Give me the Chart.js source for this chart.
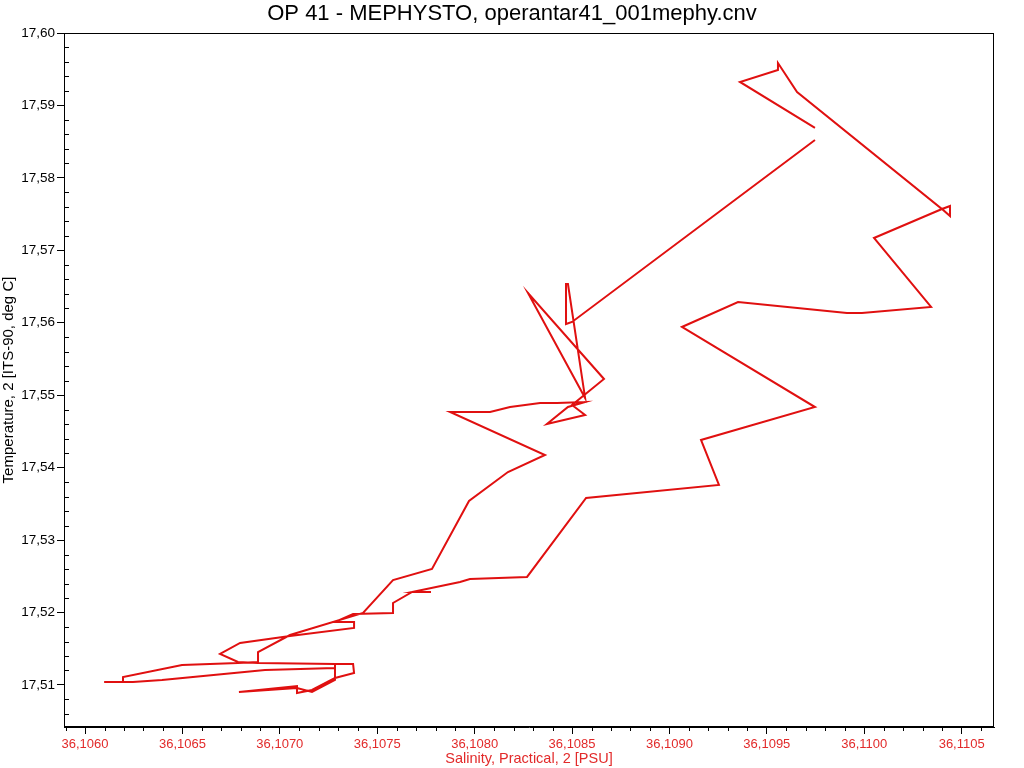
<!DOCTYPE html>
<html>
<head>
<meta charset="utf-8">
<script src="https://cdn.jsdelivr.net/npm/chart.js@4.4.0/dist/chart.umd.min.js"></script>
<style>
  html, body { margin: 0; padding: 0; background: #fff; }
</style>
</head>
<body>
<canvas id="tsChart" width="1024" height="768"></canvas>
<script>
const title = 'OP 41 - MEPHYSTO, operantar41_001mephy.cnv'

// profile, in drawing order
const salinity = [
    36.109747, 36.108500, 36.108469, 36.108469, 36.108479, 36.108567, 36.108274, 36.108664,
    36.108500, 36.108567, 36.108371, 36.108479, 36.108567, 36.108423, 36.108336, 36.108182,
    36.108079, 36.107874, 36.108361, 36.108171, 36.107971, 36.107781, 36.107581, 36.107427,
    36.107052, 36.106888, 36.106888, 36.106785, 36.106498, 36.106195, 36.106195, 36.106098,
    36.106246, 36.106395, 36.106924, 36.107283, 36.107283, 36.107376, 36.107381, 36.107283,
    36.107165, 36.107088, 36.107088, 36.106790, 36.107088, 36.107165, 36.107283, 36.107283,
    36.106888, 36.106785, 36.106693, 36.106796, 36.107052, 36.107381, 36.107381, 36.107283,
    36.107376, 36.107581, 36.107581, 36.107679, 36.107776, 36.107679, 36.107925, 36.107976,
    36.108269, 36.108572, 36.109254, 36.109162, 36.109747, 36.109064, 36.109352, 36.109911,
    36.109988, 36.110343, 36.110050, 36.110399, 36.110440, 36.110440, 36.110399, 36.109655,
    36.109557, 36.109557, 36.109362, 36.109747
]
const temperature = [
    17.58523, 17.56011, 17.55983, 17.56535, 17.56535, 17.54962, 17.56411, 17.55224,
    17.54865, 17.54727, 17.54603, 17.54837, 17.54906, 17.54893, 17.54893, 17.54837,
    17.54768, 17.54768, 17.54175, 17.53940, 17.53540, 17.52601, 17.52449, 17.51994,
    17.51690, 17.51455, 17.51317, 17.51303, 17.51276, 17.51110, 17.51041, 17.51041,
    17.51041, 17.51069, 17.51207, 17.51234, 17.51290, 17.51290, 17.51165, 17.51096,
    17.50931, 17.50889, 17.50986, 17.50903, 17.50958, 17.50903, 17.51069, 17.51290,
    17.51303, 17.51317, 17.51428, 17.51580, 17.51676, 17.51787, 17.51870, 17.51870,
    17.51980, 17.51994, 17.52132, 17.52284, 17.52284, 17.52284, 17.52422, 17.52463,
    17.52491, 17.53581, 17.53761, 17.54382, 17.54837, 17.55942, 17.56287, 17.56135,
    17.56135, 17.56218, 17.57170, 17.57570, 17.57474, 17.57612, 17.57570, 17.59186,
    17.59586, 17.59489, 17.59324, 17.58689
]

const salTicks = [36.1060, 36.1065, 36.1070, 36.1075, 36.1080, 36.1085, 36.1090, 36.1095, 36.1100, 36.1105]
const tempTicks = [17.51, 17.52, 17.53, 17.54, 17.55, 17.56, 17.57, 17.58, 17.59, 17.60]

const SAL_MIN = 36.105892
const SAL_MAX = 36.110666
const TEMP_MIN = 17.50420
const TEMP_MAX = 17.60

const red = 'rgb(224,16,16)'
const labelRed = '#e22a2a'
const fontFamily = '"Liberation Sans", Arial, sans-serif'

var points = salinity.map((s, i) => ({ x: s, y: temperature[i] }))

// frame + minor ticks, drawn through the scales
const frameAndMinor = {
    id: 'frameAndMinor',
    afterDraw(chart) {
        const { ctx, chartArea: a, scales: { x, y } } = chart
        ctx.save()
        ctx.strokeStyle = '#000'
        ctx.lineWidth = 1
        ctx.strokeRect(Math.round(a.left) + 0.5, Math.round(a.top) + 0.5,
            Math.round(a.right - a.left) - 1, Math.round(a.bottom - a.top) - 1)
        ctx.beginPath()
        for (let i = -5; i <= 60; i++) {
            const v = 36.1060 + i * 0.0001
            if (i % 5 === 0 || v < SAL_MIN || v > SAL_MAX) continue
            const px = Math.round(x.getPixelForValue(v)) + 0.5
            ctx.moveTo(px, a.bottom)
            ctx.lineTo(px, a.bottom + 4)
        }
        for (let i = -5; i <= 50; i++) {
            const v = 17.51 + i * 0.002
            if (i % 5 === 0 || v < TEMP_MIN || v > TEMP_MAX) continue
            const py = Math.round(y.getPixelForValue(v)) + 0.5
            ctx.moveTo(a.left, py)
            ctx.lineTo(a.left + 5, py)
        }
        ctx.stroke()
        ctx.restore()
    }
}

var ctx = document.getElementById('tsChart')
var tsChart = new Chart(ctx, {
    type: 'scatter',
    data: {
        datasets: [{
            label: 'profile',
            data: points,
            showLine: true,
            borderColor: red,
            backgroundColor: red,
            borderWidth: 2,
            pointRadius: 0,
            tension: 0
        }]
    },
    options: {
        responsive: false,
        animation: false,
        layout: { padding: 0 },
        plugins: {
            legend: { display: false },
            tooltip: { enabled: false },
            title: {
                display: true,
                text: title,
                color: '#000',
                font: { family: fontFamily, size: 22, weight: 'normal' },
                padding: { top: 1, bottom: 5.6 }
            }
        },
        scales: {
            x: {
                type: 'linear',
                min: SAL_MIN,
                max: SAL_MAX,
                afterBuildTicks: s => { s.ticks = salTicks.map(v => ({ value: v })) },
                // keep the right margin here so the title stays centred on the page
                afterFit: s => { s.height = 41; s.paddingRight = 30 },
                ticks: {
                    callback: v => v.toFixed(4).replace('.', ','),
                    color: labelRed,
                    font: { family: fontFamily, size: 13 },
                    padding: 3,
                    maxRotation: 0,
                    autoSkip: false
                },
                grid: { drawOnChartArea: false, tickLength: 7, color: '#000' },
                border: { color: '#000' },
                title: {
                    display: true,
                    text: 'Salinity, Practical, 2 [PSU]',
                    color: labelRed,
                    font: { family: fontFamily, size: 14.5 },
                    padding: { top: 0, bottom: 0 }
                }
            },
            y: {
                type: 'linear',
                min: TEMP_MIN,
                max: TEMP_MAX,
                afterBuildTicks: s => { s.ticks = tempTicks.map(v => ({ value: v })) },
                afterFit: s => { s.width = 64 },
                ticks: {
                    callback: v => v.toFixed(2).replace('.', ','),
                    color: '#000',
                    font: { family: fontFamily, size: 13.5 },
                    padding: 2,
                    autoSkip: false
                },
                grid: { drawOnChartArea: false, tickLength: 7, color: '#000' },
                border: { color: '#000' },
                title: {
                    display: true,
                    text: 'Temperature, 2 [ITS-90, deg C]',
                    color: '#000',
                    font: { family: fontFamily, size: 15 },
                    padding: { top: 0, bottom: 0 }
                }
            }
        }
    },
    plugins: [frameAndMinor]
})
</script>
</body>
</html>
